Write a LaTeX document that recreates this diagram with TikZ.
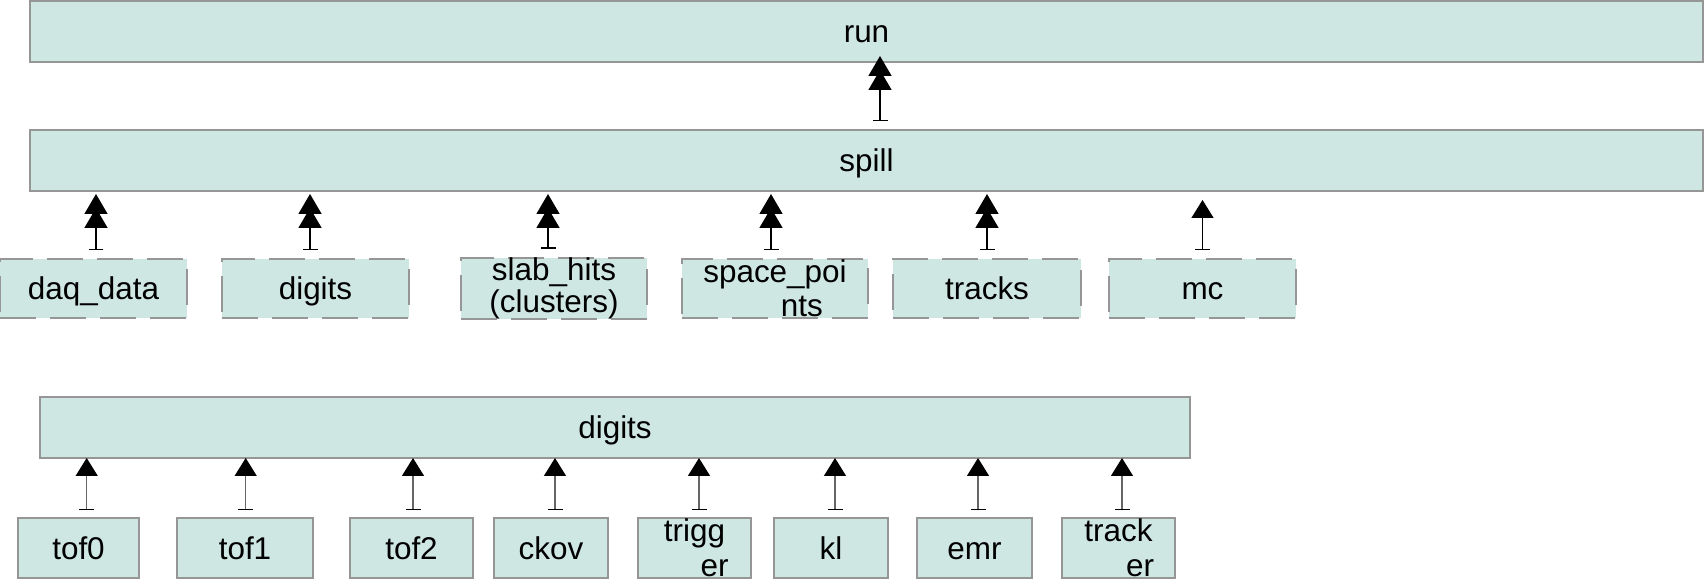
\documentclass[tikz,border=0pt]{standalone}
\usepackage{fontspec}
\setmainfont{Liberation Sans}
\usetikzlibrary{arrows.meta}
\definecolor{boxfill}{RGB}{207,231,227}
\definecolor{boxline}{RGB}{150,150,150}
\begin{document}
\begin{tikzpicture}[x=0.02cm,y=-0.02cm,
  box/.style={draw=boxline, fill=boxfill, line width=0.03cm, inner sep=0pt, outer sep=0pt,
    align=center, font=\fontsize{17.9pt}{18.2pt}\selectfont},
  one/.style={text height=0.44cm, text depth=0pt},
  dbox/.style={box, dash pattern=on 0.72cm off 0.28cm},
  conn/.style={draw=black!60, line width=0.03cm,
    {Bar[width=0.3cm,color=black]}-{Triangle[width=0.44cm,length=0.36cm,color=black]}},
  connd/.style={draw=black, line width=0.03cm,
    {Bar[width=0.3cm]}-{Triangle[width=0.46cm,length=0.4cm,sep=-0.12cm]Triangle[width=0.46cm,length=0.4cm,sep=-0.12cm]}},
  connu/.style={draw=black, line width=0.03cm,
    {Bar[width=0.3cm]}-{Triangle[width=0.44cm,length=0.36cm]}}
]
\useasboundingbox (0,0) rectangle (1704,584);

% top level
\node[box,one,minimum width=33.46cm,minimum height=1.22cm] (run) at (866.5,31.5) {run};
\node[box,one,minimum width=33.46cm,minimum height=1.22cm] (spill) at (866.5,160.5) {spill};

% spill members
\node[dbox,one,minimum width=3.74cm,minimum height=1.18cm] (daq) at (93.5,288.5) {daq\_data};
\node[dbox,one,minimum width=3.74cm,minimum height=1.18cm] (digA) at (315.5,288.5) {digits};
\node[dbox,minimum width=3.72cm,minimum height=1.18cm] (slab) at (554,288.5) {slab\_hits\\(clusters)};
\node[dbox,minimum width=3.72cm,minimum height=1.18cm] (space) at (775,288.5) {space\_poi\\[1.15pt]\hspace*{1.07cm}nts};
\node[dbox,one,minimum width=3.76cm,minimum height=1.18cm] (tracks) at (987,288.5) {tracks};
\node[dbox,one,minimum width=3.74cm,minimum height=1.18cm] (mc) at (1202.5,288.5) {mc};

% digits block
\node[box,one,minimum width=23.0cm,minimum height=1.22cm] (digB) at (615,427.5) {digits};
\node[box,one,minimum width=2.42cm,minimum height=1.2cm] (tof0) at (78.5,548) {tof0};
\node[box,one,minimum width=2.72cm,minimum height=1.2cm] (tof1) at (245,548) {tof1};
\node[box,one,minimum width=2.46cm,minimum height=1.2cm] (tof2) at (411.5,548) {tof2};
\node[box,one,minimum width=2.28cm,minimum height=1.2cm] (ckov) at (551,548) {ckov};
\node[box,minimum width=2.26cm,minimum height=1.2cm] (trigg) at (694.5,548) {trigg\\[1.7pt]\hspace*{0.8cm}er};
\node[box,one,minimum width=2.28cm,minimum height=1.2cm] (kl) at (831,548) {kl};
\node[box,one,minimum width=2.30cm,minimum height=1.2cm] (emr) at (974.5,548) {emr};
\node[box,minimum width=2.26cm,minimum height=1.2cm] (tracker) at (1118.5,548) {track\\[1.7pt]\hspace*{0.86cm}er};

% connectors
\draw[connd, shorten <=0.18cm] ([xshift=0.27cm]spill.north) -- ([xshift=0.27cm]spill.north |- run.south);

\draw[connd, shorten <=0.18cm, shorten >=0.18cm] ([xshift=0.05cm]daq.north) -- ([xshift=0.05cm]daq.north |- spill.south);
\draw[connd, shorten <=0.18cm, shorten >=0.18cm] ([xshift=-0.11cm]digA.north) -- ([xshift=-0.11cm]digA.north |- spill.south);
\draw[connd, shorten <=0.18cm, shorten >=0.18cm] ([xshift=-0.12cm]slab.north) -- ([xshift=-0.12cm]slab.north |- spill.south);
\draw[connd, shorten <=0.18cm, shorten >=0.18cm] ([xshift=-0.08cm]space.north) -- ([xshift=-0.08cm]space.north |- spill.south);
\draw[connd, shorten <=0.18cm, shorten >=0.18cm] (tracks.north) -- (tracks.north |- spill.south);
\draw[connu, shorten <=0.18cm, shorten >=0.18cm] (mc.north) -- (mc.north |- spill.south);

\draw[conn, shorten <=0.16cm] ([xshift=0.164cm]tof0.north) -- ([xshift=0.164cm]tof0.north |- digB.south);
\draw[conn, shorten <=0.16cm] ([xshift=0.014cm]tof1.north) -- ([xshift=0.014cm]tof1.north |- digB.south);
\draw[conn, shorten <=0.16cm] ([xshift=0.03cm]tof2.north) -- ([xshift=0.03cm]tof2.north |- digB.south);
\draw[conn, shorten <=0.16cm] ([xshift=0.08cm]ckov.north) -- ([xshift=0.08cm]ckov.north |- digB.south);
\draw[conn, shorten <=0.16cm] ([xshift=0.09cm]trigg.north) -- ([xshift=0.09cm]trigg.north |- digB.south);
\draw[conn, shorten <=0.16cm] ([xshift=0.08cm]kl.north) -- ([xshift=0.08cm]kl.north |- digB.south);
\draw[conn, shorten <=0.16cm] ([xshift=0.07cm]emr.north) -- ([xshift=0.07cm]emr.north |- digB.south);
\draw[conn, shorten <=0.16cm] ([xshift=0.07cm]tracker.north) -- ([xshift=0.07cm]tracker.north |- digB.south);
\end{tikzpicture}
\end{document}
